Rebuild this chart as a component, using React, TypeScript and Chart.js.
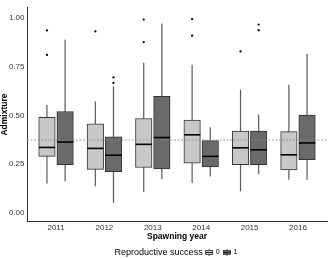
import React, { useEffect, useRef } from "react";
import { Chart, registerables } from "chart.js";

Chart.register(...registerables);

const years = ["2011", "2012", "2013", "2014", "2015", "2016"];
const yTickValues = [0, 0.25, 0.5, 0.75, 1.0];
const groupLabels = ["0", "1"];

// Reproductive success = 0 (light boxes)
const low0 = [0.149, 0.136, 0.106, 0.152, 0.109, 0.169];
const q1_0 = [0.289, 0.222, 0.232, 0.254, 0.247, 0.219];
const med0 = [0.335, 0.33, 0.351, 0.4, 0.333, 0.297];
const q3_0 = [0.49, 0.456, 0.484, 0.476, 0.419, 0.416];
const high0 = [0.553, 0.572, 0.771, 0.761, 0.632, 0.658];
const out0: number[][] = [[0.937, 0.811], [0.932], [0.993, 0.877], [0.995, 0.91], [0.829], []];

// Reproductive success = 1 (dark boxes)
const low1 = [0.161, 0.05, 0.171, 0.186, 0.197, 0.169];
const q1_1 = [0.247, 0.21, 0.225, 0.235, 0.247, 0.272];
const med1 = [0.363, 0.295, 0.386, 0.289, 0.323, 0.358];
const q3_1 = [0.52, 0.39, 0.598, 0.37, 0.419, 0.502];
const high1 = [0.89, 0.65, 0.973, 0.439, 0.505, 0.816];
const out1: number[][] = [[], [0.695, 0.667], [], [], [0.967, 0.938], []];

const refLine = 0.373;

const DODGE = 0.1875;
const BOX_W = 0.3375;
const LIGHT = "#c8c8c8";
const DARK = "#6a6a6a";
const BORDER = "#333333";
const WHISKER = "#5a5a5a";
const FONT = "'Liberation Sans', Arial, sans-serif";

const groups = [
  { low: low0, q1: q1_0, med: med0, q3: q3_0, high: high0, out: out0, off: -DODGE, fill: LIGHT },
  { low: low1, q1: q1_1, med: med1, q3: q3_1, high: high1, out: out1, off: DODGE, fill: DARK },
];

const boxPlugin = {
  id: "boxExtras",
  beforeDatasetsDraw(chart: any) {
    const { ctx } = chart;
    const xs = chart.scales.x;
    const ys = chart.scales.y;
    ctx.save();
    ctx.strokeStyle = WHISKER;
    ctx.lineWidth = 1.2;
    groups.forEach((g) => {
      years.forEach((_, i) => {
        const x = xs.getPixelForValue(i + g.off);
        ctx.beginPath();
        ctx.moveTo(x, ys.getPixelForValue(g.low[i]));
        ctx.lineTo(x, ys.getPixelForValue(g.high[i]));
        ctx.stroke();
      });
    });
    ctx.restore();
  },
  afterDatasetsDraw(chart: any) {
    const { ctx, chartArea } = chart;
    const xs = chart.scales.x;
    const ys = chart.scales.y;
    ctx.save();
    // medians
    ctx.strokeStyle = "#000";
    ctx.lineWidth = 1.6;
    groups.forEach((g) => {
      years.forEach((_, i) => {
        const x0 = xs.getPixelForValue(i + g.off - BOX_W / 2);
        const x1 = xs.getPixelForValue(i + g.off + BOX_W / 2);
        const y = ys.getPixelForValue(g.med[i]);
        ctx.beginPath();
        ctx.moveTo(x0, y);
        ctx.lineTo(x1, y);
        ctx.stroke();
      });
    });
    // reference line
    ctx.strokeStyle = "#8a8a8a";
    ctx.lineWidth = 0.8;
    ctx.setLineDash([2, 1.5]);
    const yr = ys.getPixelForValue(refLine);
    ctx.beginPath();
    ctx.moveTo(chartArea.left, yr);
    ctx.lineTo(chartArea.right, yr);
    ctx.stroke();
    ctx.restore();
  },
  afterDraw(chart: any) {
    const { ctx, chartArea } = chart;
    ctx.save();
    const title = "Reproductive success";
    ctx.font = `9px ${FONT}`;
    const tw = ctx.measureText(title).width;
    ctx.font = `7px ${FONT}`;
    const lw0 = ctx.measureText(groupLabels[0]).width;
    const lw1 = ctx.measureText(groupLabels[1]).width;
    const keyW = 7;
    const gap1 = 3;
    const gap2 = 3;
    const gap3 = 4;
    const total = tw + gap1 + keyW + gap2 + lw0 + gap3 + keyW + gap2 + lw1;
    const cx = (chartArea.left + chartArea.right) / 2 - 1;
    const cy = 252.5;
    let x = cx - total / 2;
    ctx.fillStyle = "#000";
    ctx.textBaseline = "middle";
    ctx.textAlign = "left";
    ctx.font = `9px ${FONT}`;
    ctx.fillText(title, x, cy);
    x += tw + gap1;
    const drawKey = (kx: number, fill: string) => {
      ctx.strokeStyle = WHISKER;
      ctx.lineWidth = 1;
      ctx.beginPath();
      ctx.moveTo(kx + keyW / 2, cy - 3.5);
      ctx.lineTo(kx + keyW / 2, cy + 3.5);
      ctx.stroke();
      ctx.fillStyle = fill;
      ctx.fillRect(kx, cy - 2, keyW, 4);
      ctx.strokeStyle = BORDER;
      ctx.lineWidth = 0.8;
      ctx.strokeRect(kx, cy - 2, keyW, 4);
      ctx.strokeStyle = "#000";
      ctx.beginPath();
      ctx.moveTo(kx, cy);
      ctx.lineTo(kx + keyW, cy);
      ctx.stroke();
    };
    drawKey(x, LIGHT);
    x += keyW + gap2;
    ctx.fillStyle = "#000";
    ctx.font = `7px ${FONT}`;
    ctx.fillText(groupLabels[0], x, cy);
    x += lw0 + gap3;
    drawKey(x, DARK);
    x += keyW + gap2;
    ctx.fillStyle = "#000";
    ctx.font = `7px ${FONT}`;
    ctx.fillText(groupLabels[1], x, cy);
    ctx.restore();
  },
};

export default function App() {
  const ref = useRef<HTMLCanvasElement | null>(null);
  useEffect(() => {
    if (!ref.current) return;
    const outlierPoints: { x: number; y: number }[] = [];
    groups.forEach((g) => {
      g.out.forEach((vals, i) => {
        vals.forEach((v) => outlierPoints.push({ x: i + g.off, y: v }));
      });
    });
    const tickFont = { family: FONT, size: 8 };
    const chart = new Chart(ref.current, {
      type: "bar",
      data: {
        datasets: [
          ...groups.map((g, gi) => ({
            type: "bar" as const,
            label: groupLabels[gi],
            data: years.map((_, i) => ({ x: i + g.off, y: [g.q1[i], g.q3[i]] })),
            backgroundColor: g.fill,
            borderColor: BORDER,
            borderWidth: 1,
            borderSkipped: false,
            barThickness: 16.5,
            grouped: false,
          })),
          {
            type: "scatter" as const,
            label: "outliers",
            data: outlierPoints,
            pointRadius: 1.15,
            backgroundColor: "#000",
            borderWidth: 0,
          },
        ],
      } as any,
      options: {
        animation: false,
        responsive: false,
        maintainAspectRatio: false,
        layout: { padding: { left: 0, right: 0, top: 0, bottom: 15 } },
        plugins: { legend: { display: false }, tooltip: { enabled: false } },
        scales: {
          x: {
            type: "linear",
            min: -0.6,
            max: 5.6,
            offset: false,
            grid: { display: false, drawTicks: false },
            border: { display: true, color: "#333", width: 1 },
            afterBuildTicks: (s: any) => {
              s.ticks = years.map((_, i) => ({ value: i }));
            },
            afterFit: (s: any) => {
              s.height = 21.3;
            },
            ticks: {
              callback: (v: any) => years[Math.round(Number(v))],
              font: tickFont,
              color: "#333",
              padding: 1,
              autoSkip: false,
              maxRotation: 0,
            },
            title: {
              display: true,
              text: "Spawning year",
              font: { family: FONT, size: 8.5, weight: "bold" },
              color: "#000",
              padding: { top: 0, bottom: 1 },
            },
          },
          y: {
            type: "linear",
            min: -0.047,
            max: 1.056,
            grid: { display: false, drawTicks: false },
            border: { display: true, color: "#333", width: 1 },
            afterBuildTicks: (s: any) => {
              s.ticks = yTickValues.map((v) => ({ value: v }));
            },
            afterFit: (s: any) => {
              s.width = 27;
            },
            ticks: {
              callback: (v: any) => Number(v).toFixed(2),
              font: tickFont,
              color: "#333",
              padding: 2.5,
            },
            title: {
              display: true,
              text: "Admixture",
              font: { family: FONT, size: 8.5, weight: "bold" },
              color: "#000",
              padding: { top: 0, bottom: 0 },
            },
          },
        },
      } as any,
      plugins: [boxPlugin],
    });
    return () => chart.destroy();
  }, []);
  return (
    <div style={{ position: "absolute", left: 0, top: 0, width: 331, height: 258, background: "#fff" }}>
      <canvas ref={ref} width={331} height={258} style={{ width: 331, height: 258, display: "block" }} />
    </div>
  );
}
